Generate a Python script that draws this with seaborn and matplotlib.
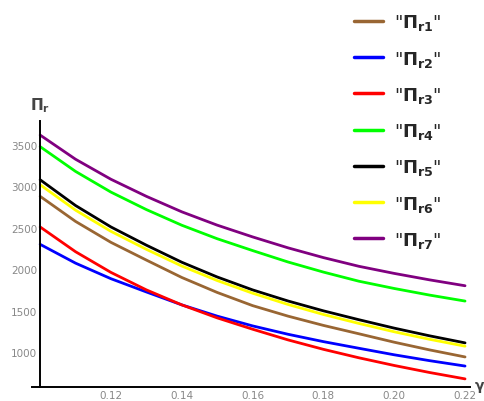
import numpy as np
import pandas as pd
import matplotlib
matplotlib.use("Agg")
import matplotlib.pyplot as plt
import seaborn as sns
from matplotlib.ticker import MultipleLocator

# gamma values (x axis)
gamma = [0.10, 0.11, 0.12, 0.13, 0.14, 0.15, 0.16, 0.17, 0.18, 0.19, 0.20, 0.21, 0.22]

# values
pr1 = [2880, 2577, 2324, 2110, 1900, 1719, 1560, 1433, 1321, 1220, 1118, 1025, 940]
pr2 = [2300, 2073, 1885, 1725, 1569, 1433, 1315, 1214, 1125, 1045, 966, 895, 830]
pr3 = [2510, 2211, 1961, 1750, 1569, 1412, 1275, 1146, 1032, 930, 837, 752, 675]
pr4 = [3480, 3181, 2931, 2720, 2531, 2368, 2225, 2087, 1965, 1855, 1767, 1687, 1615]
pr5 = [3080, 2769, 2510, 2290, 2084, 1906, 1750, 1616, 1497, 1390, 1288, 1195, 1110]
pr6 = [3020, 2713, 2457, 2240, 2038, 1863, 1710, 1574, 1453, 1345, 1244, 1153, 1070]
pr7 = [3620, 3328, 3086, 2880, 2693, 2532, 2390, 2258, 2140, 2035, 1949, 1871, 1800]

labels = [r'"$\Pi_{r1}$"', r'"$\Pi_{r2}$"', r'"$\Pi_{r3}$"', r'"$\Pi_{r4}$"',
          r'"$\Pi_{r5}$"', r'"$\Pi_{r6}$"', r'"$\Pi_{r7}$"']
colors = ['#996633', '#0000FF', '#FF0000', '#00FF00', '#000000', '#FFFF00', '#800080']

series = [pr1, pr2, pr3, pr4, pr5, pr6, pr7]
frames = []
for lab, vals in zip(labels, series):
    frames.append(pd.DataFrame({'gamma': gamma, 'value': vals, 'series': lab}))
df = pd.concat(frames, ignore_index=True)

sns.set_style('white')
plt.rcParams['mathtext.default'] = 'bf'

fig = plt.figure(figsize=(4.85, 4.02), dpi=100)
ax = fig.add_axes([32 / 485, 14 / 402, 438 / 485, 266 / 402])

sns.lineplot(data=df, x='gamma', y='value', hue='series', palette=colors,
             linewidth=2.0, ax=ax, legend=False)

ax.set_xlim(0.0977, 0.2214)
ax.set_ylim(577, 3790)

# Mathematica-like axes crossing
ax.spines['left'].set_position(('data', 0.10))
ax.spines['top'].set_visible(False)
ax.spines['right'].set_visible(False)
for s in ['left', 'bottom']:
    ax.spines[s].set_linewidth(1.4)
    ax.spines[s].set_color('black')

ax.xaxis.set_minor_locator(MultipleLocator(0.004))
ax.yaxis.set_minor_locator(MultipleLocator(100))
ax.set_xticks([0.12, 0.14, 0.16, 0.18, 0.20, 0.22])
ax.set_xticklabels(['0.12', '0.14', '0.16', '0.18', '0.20', '0.22'])
ax.set_yticks([1000, 1500, 2000, 2500, 3000, 3500])
ax.tick_params(axis='both', which='major', direction='in', length=5, width=1.2,
               labelsize=7.5, labelcolor='#888888', color='black', pad=2)
ax.tick_params(axis='both', which='minor', direction='in', length=3, width=1.0, color='black')
ax.set_xlabel('')
ax.set_ylabel('')

fig.text(40 / 485, 1 - 106 / 402, r'$\Pi_r$', fontsize=11, color='#444444',
         ha='center', va='center')
fig.text(474 / 485, 1 - 388 / 402, r'$\gamma$', fontsize=10, color='#444444',
         ha='left', va='center')

handles = [plt.Line2D([], [], color=c, linewidth=2.5) for c in colors]
fig.legend(handles, labels, loc='upper left', bbox_to_anchor=(338 / 485, 1 + 3 / 402),
           frameon=False, fontsize=13, handlelength=1.6, handletextpad=0.6,
           labelspacing=0.9)

fig.savefig('out.png', dpi=100)
